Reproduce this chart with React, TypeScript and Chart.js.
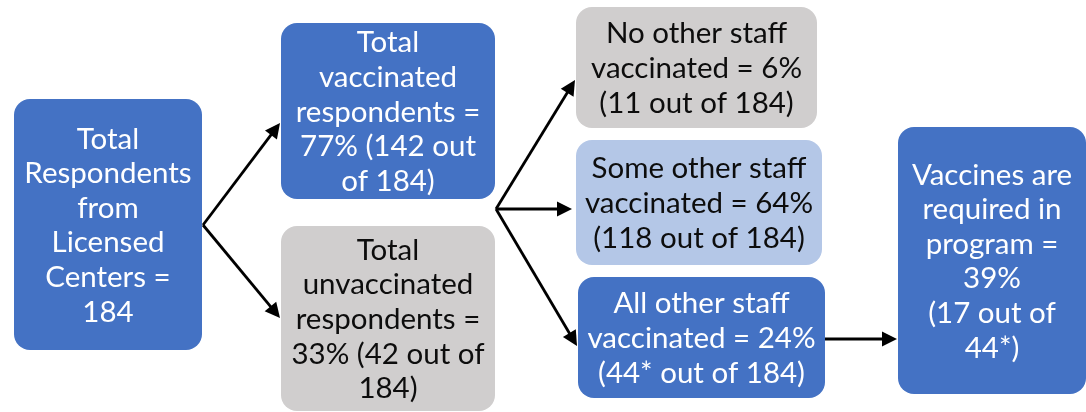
import React, { useEffect, useRef } from "react";
import { Chart, registerables } from "chart.js";

Chart.register(...registerables);

// ---- Data ----
const nodeIds = ["total", "vacc", "unvacc", "none", "some", "all", "required"];
const nodeTexts: string[][] = [
  ["Total", "Respondents", "from", "Licensed", "Centers =", "184"],
  ["Total", "vaccinated", "respondents =", "77% (142 out", "of 184)"],
  ["Total", "unvaccinated", "respondents =", "33% (42 out of", "184)"],
  ["No other staff", "vaccinated = 6%", "(11 out of 184)"],
  ["Some other staff", "vaccinated = 64%", "(118 out of 184)"],
  ["All other staff", "vaccinated = 24%", "(44* out of 184)"],
  ["Vaccines are", "required in", "program =", "39%", "(17 out of", "44*)"],
];
const nodeKinds = ["dark", "dark", "grey", "grey", "light", "dark", "dark"];

// ---- Layout (positions in chart coordinates, separate from the data) ----
const nodeLeft = [14, 281, 281, 576, 576, 578, 898];
const nodeTop = [99, 23, 226, 7, 140, 277, 127];
const nodeRight = [202, 495, 495, 817, 822, 825, 1086];
const nodeBottom = [350, 199, 411, 128, 265, 398, 394];

// arrows: [x1, y1, x2, y2]
const arrows: number[][] = [
  [203, 225, 280, 123],
  [203, 225, 280, 318],
  [496, 209, 575, 80],
  [496, 209, 572, 209],
  [496, 209, 577, 346],
  [825, 339, 897, 339],
];

const kindFill: Record<string, string> = {
  dark: "#4472C4",
  grey: "#D0CECE",
  light: "#B4C7E7",
};
const kindText: Record<string, string> = {
  dark: "#FFFFFF",
  grey: "#0D0D0D",
  light: "#0D0D0D",
};

const FONT = "29.5px Lato, 'Open Sans', sans-serif";
const LINE_H = 34.6;

const flowPlugin = {
  id: "flow",
  afterDatasetsDraw(chart: any) {
    const ctx = chart.ctx as CanvasRenderingContext2D;
    const xs = chart.scales.x;
    const ys = chart.scales.y;
    const px = (v: number) => xs.getPixelForValue(v);
    const py = (v: number) => ys.getPixelForValue(v);
    ctx.save();
    // boxes
    nodeIds.forEach((_, i) => {
      const x0 = px(nodeLeft[i]);
      const x1 = px(nodeRight[i]);
      const y0 = py(nodeTop[i]);
      const y1 = py(nodeBottom[i]);
      const w = x1 - x0;
      const h = y1 - y0;
      const r = Math.min(16, w / 6, h / 6);
      ctx.beginPath();
      ctx.roundRect(x0, y0, w, h, r);
      ctx.fillStyle = kindFill[nodeKinds[i]];
      ctx.fill();
      // text
      const lines = nodeTexts[i];
      ctx.fillStyle = kindText[nodeKinds[i]];
      ctx.font = FONT;
      ctx.textAlign = "center";
      ctx.textBaseline = "middle";
      const cx = (x0 + x1) / 2;
      const cy = (y0 + y1) / 2;
      const start = cy - ((lines.length - 1) * LINE_H) / 2;
      lines.forEach((ln, j) => {
        ctx.fillText(ln, cx, start + j * LINE_H + 1);
      });
    });
    // arrows
    ctx.strokeStyle = "#000";
    ctx.fillStyle = "#000";
    ctx.lineWidth = 2.8;
    arrows.forEach(([ax, ay, bx, by]) => {
      const x1 = px(ax), y1 = py(ay), x2 = px(bx), y2 = py(by);
      const ang = Math.atan2(y2 - y1, x2 - x1);
      const hl = 15;
      const hw = 7.5;
      const bxp = x2 - hl * Math.cos(ang);
      const byp = y2 - hl * Math.sin(ang);
      ctx.beginPath();
      ctx.moveTo(x1, y1);
      ctx.lineTo(bxp + Math.cos(ang), byp + Math.sin(ang));
      ctx.stroke();
      ctx.beginPath();
      ctx.moveTo(x2, y2);
      ctx.lineTo(bxp + hw * Math.sin(ang), byp - hw * Math.cos(ang));
      ctx.lineTo(bxp - hw * Math.sin(ang), byp + hw * Math.cos(ang));
      ctx.closePath();
      ctx.fill();
    });
    ctx.restore();
  },
};

export default function App() {
  const ref = useRef<HTMLCanvasElement>(null);
  useEffect(() => {
    if (!ref.current) return;
    const chart = new Chart(ref.current, {
      type: "scatter",
      data: {
        datasets: [
          {
            label: "nodes",
            data: nodeIds.map((_, i) => ({
              x: (nodeLeft[i] + nodeRight[i]) / 2,
              y: (nodeTop[i] + nodeBottom[i]) / 2,
            })),
            pointRadius: 0,
            pointHoverRadius: 0,
          },
        ],
      },
      options: {
        animation: false,
        responsive: false,
        maintainAspectRatio: false,
        layout: { padding: 0 },
        events: [],
        plugins: {
          legend: { display: false },
          tooltip: { enabled: false },
          title: { display: false },
        },
        scales: {
          x: { type: "linear", min: 0, max: 1086, display: false },
          y: { type: "linear", min: 0, max: 412, reverse: true, display: false },
        },
      },
      plugins: [flowPlugin],
    });
    return () => chart.destroy();
  }, []);
  return (
    <div style={{ position: "fixed", left: 0, top: 0, width: 1086, height: 412, background: "#fff" }}>
      <canvas ref={ref} width={1086} height={412} style={{ display: "block" }} />
    </div>
  );
}
